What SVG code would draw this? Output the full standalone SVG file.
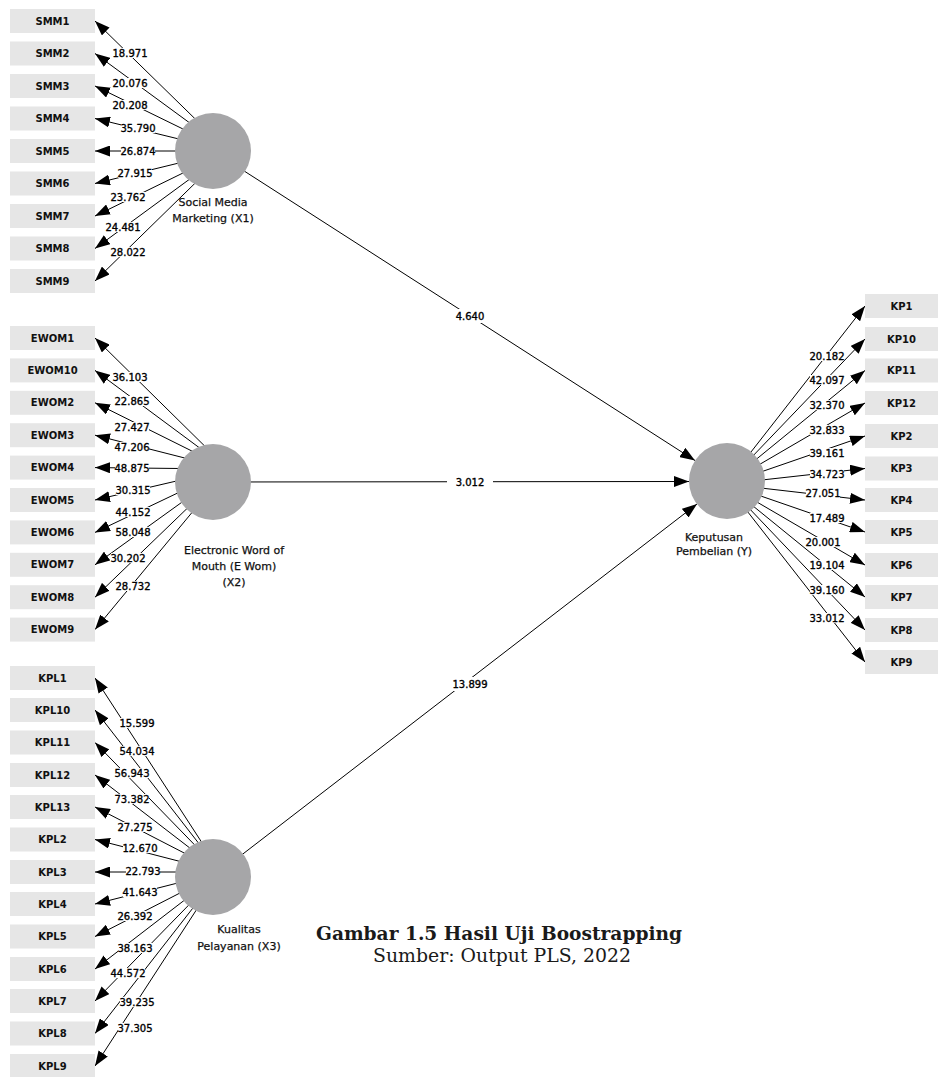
<svg xmlns="http://www.w3.org/2000/svg" width="939" height="1077" viewBox="0 0 939 1077">
<defs>
<style>
.bg{fill:#fff}
.box{fill:#e6e6e6}
.lv{fill:#a6a6a8}
.bt{font-family:"DejaVu Sans",sans-serif;font-weight:bold;font-size:10px;fill:#111;text-anchor:middle}
.nt{font-family:"DejaVu Sans",sans-serif;font-size:11px;fill:#111;stroke:#111;stroke-width:0.25;text-anchor:middle}
.ln{stroke:#000;stroke-width:1;fill:none;marker-end:url(#ah)}
.lb{fill:#fff}
.vt{font-family:"DejaVu Sans",sans-serif;font-size:10px;fill:#000;stroke:#000;stroke-width:0.35;text-anchor:middle}
.t1{font-family:"DejaVu Serif","Liberation Serif",serif;font-weight:bold;font-size:19px;fill:#1a1a1a;text-anchor:middle}
.t2{font-family:"DejaVu Serif","Liberation Serif",serif;font-size:18.5px;fill:#1a1a1a;text-anchor:middle}
</style>
<marker id="ah" markerUnits="userSpaceOnUse" markerWidth="15" markerHeight="11" refX="15" refY="5.5" orient="auto"><path d="M0,0 L15,5.5 L0,11 Z" fill="#000"/></marker>
</defs>
<rect class="bg" x="0" y="0" width="939" height="1077"/>
<g id="connectors">
<line class="ln" x1="213" y1="151" x2="695" y2="460.5"/>
<line class="ln" x1="213" y1="482" x2="689" y2="481.5"/>
<line class="ln" x1="213" y1="877" x2="697" y2="504"/>
<line class="ln" x1="228" y1="151" x2="95" y2="21"/>
<line class="ln" x1="228" y1="151" x2="95" y2="53.5"/>
<line class="ln" x1="228" y1="151" x2="95" y2="86"/>
<line class="ln" x1="228" y1="151" x2="95" y2="118.5"/>
<line class="ln" x1="228" y1="151" x2="95" y2="151"/>
<line class="ln" x1="228" y1="151" x2="95" y2="183.5"/>
<line class="ln" x1="228" y1="151" x2="95" y2="216"/>
<line class="ln" x1="228" y1="151" x2="95" y2="248.5"/>
<line class="ln" x1="228" y1="151" x2="95" y2="281"/>
<line class="ln" x1="228" y1="469" x2="95" y2="338"/>
<line class="ln" x1="228" y1="469" x2="95" y2="370.4"/>
<line class="ln" x1="228" y1="469" x2="95" y2="402.8"/>
<line class="ln" x1="228" y1="469" x2="95" y2="435.2"/>
<line class="ln" x1="228" y1="469" x2="95" y2="467.6"/>
<line class="ln" x1="228" y1="469" x2="95" y2="500"/>
<line class="ln" x1="228" y1="469" x2="95" y2="532.4"/>
<line class="ln" x1="228" y1="469" x2="95" y2="564.8"/>
<line class="ln" x1="228" y1="469" x2="95" y2="597.2"/>
<line class="ln" x1="228" y1="469" x2="95" y2="629.6"/>
<line class="ln" x1="221" y1="872" x2="95" y2="678"/>
<line class="ln" x1="221" y1="872" x2="95" y2="710"/>
<line class="ln" x1="221" y1="872" x2="95" y2="742.5"/>
<line class="ln" x1="221" y1="872" x2="95" y2="775"/>
<line class="ln" x1="221" y1="872" x2="95" y2="807"/>
<line class="ln" x1="221" y1="872" x2="95" y2="839.5"/>
<line class="ln" x1="221" y1="872" x2="95" y2="872"/>
<line class="ln" x1="221" y1="872" x2="95" y2="904"/>
<line class="ln" x1="221" y1="872" x2="95" y2="936.5"/>
<line class="ln" x1="221" y1="872" x2="95" y2="969"/>
<line class="ln" x1="221" y1="872" x2="95" y2="1001"/>
<line class="ln" x1="221" y1="872" x2="95" y2="1033.5"/>
<line class="ln" x1="221" y1="872" x2="95" y2="1066"/>
<line class="ln" x1="726" y1="484" x2="865" y2="306"/>
<line class="ln" x1="726" y1="484" x2="865" y2="339"/>
<line class="ln" x1="726" y1="484" x2="865" y2="370.5"/>
<line class="ln" x1="726" y1="484" x2="865" y2="403"/>
<line class="ln" x1="726" y1="484" x2="865" y2="436"/>
<line class="ln" x1="726" y1="484" x2="865" y2="468.5"/>
<line class="ln" x1="726" y1="484" x2="865" y2="500"/>
<line class="ln" x1="726" y1="484" x2="865" y2="532"/>
<line class="ln" x1="726" y1="484" x2="865" y2="565"/>
<line class="ln" x1="726" y1="484" x2="865" y2="597"/>
<line class="ln" x1="726" y1="484" x2="865" y2="630"/>
<line class="ln" x1="726" y1="484" x2="865" y2="662"/>
<rect class="lb" x="448" y="309" width="44" height="14"/><text class="vt" x="470" y="319.6">4.640</text>
<rect class="lb" x="447" y="475" width="46" height="14"/><text class="vt" x="470" y="485.6">3.012</text>
<rect class="lb" x="446" y="677" width="49" height="14"/><text class="vt" x="470" y="687.6">13.899</text>
<rect class="lb" x="113" y="48" width="34" height="10"/><text class="vt" x="130" y="56.6">18.971</text>
<rect class="lb" x="113" y="78" width="34" height="10"/><text class="vt" x="130" y="86.6">20.076</text>
<rect class="lb" x="113" y="100" width="34" height="10"/><text class="vt" x="130" y="108.6">20.208</text>
<rect class="lb" x="121" y="123" width="34" height="10"/><text class="vt" x="138" y="131.6">35.790</text>
<rect class="lb" x="121" y="146" width="34" height="10"/><text class="vt" x="138" y="154.6">26.874</text>
<rect class="lb" x="118" y="168" width="34" height="10"/><text class="vt" x="135" y="176.6">27.915</text>
<rect class="lb" x="111" y="192" width="34" height="10"/><text class="vt" x="128" y="200.6">23.762</text>
<rect class="lb" x="106" y="222" width="34" height="10"/><text class="vt" x="123" y="230.6">24.481</text>
<rect class="lb" x="111" y="247" width="34" height="10"/><text class="vt" x="128" y="255.6">28.022</text>
<rect class="lb" x="113" y="372" width="34" height="10"/><text class="vt" x="130" y="380.6">36.103</text>
<rect class="lb" x="115" y="396" width="34" height="10"/><text class="vt" x="132" y="404.6">22.865</text>
<rect class="lb" x="115" y="422" width="34" height="10"/><text class="vt" x="132" y="430.6">27.427</text>
<rect class="lb" x="115" y="442" width="34" height="10"/><text class="vt" x="132" y="450.6">47.206</text>
<rect class="lb" x="115" y="463" width="34" height="10"/><text class="vt" x="132" y="471.6">48.875</text>
<rect class="lb" x="116" y="485" width="34" height="10"/><text class="vt" x="133" y="493.6">30.315</text>
<rect class="lb" x="116" y="507" width="34" height="10"/><text class="vt" x="133" y="515.6">44.152</text>
<rect class="lb" x="116" y="527" width="34" height="10"/><text class="vt" x="133" y="535.6">58.048</text>
<rect class="lb" x="111" y="553" width="34" height="10"/><text class="vt" x="128" y="561.6">30.202</text>
<rect class="lb" x="116" y="581" width="34" height="10"/><text class="vt" x="133" y="589.6">28.732</text>
<rect class="lb" x="120" y="718" width="34" height="10"/><text class="vt" x="137" y="726.6">15.599</text>
<rect class="lb" x="120" y="746" width="34" height="10"/><text class="vt" x="137" y="754.6">54.034</text>
<rect class="lb" x="115" y="768" width="34" height="10"/><text class="vt" x="132" y="776.6">56.943</text>
<rect class="lb" x="115" y="794" width="34" height="10"/><text class="vt" x="132" y="802.6">73.382</text>
<rect class="lb" x="118" y="822" width="34" height="10"/><text class="vt" x="135" y="830.6">27.275</text>
<rect class="lb" x="123" y="843" width="34" height="10"/><text class="vt" x="140" y="851.6">12.670</text>
<rect class="lb" x="126" y="866" width="34" height="10"/><text class="vt" x="143" y="874.6">22.793</text>
<rect class="lb" x="123" y="887" width="34" height="10"/><text class="vt" x="140" y="895.6">41.643</text>
<rect class="lb" x="118" y="911" width="34" height="10"/><text class="vt" x="135" y="919.6">26.392</text>
<rect class="lb" x="118" y="943" width="34" height="10"/><text class="vt" x="135" y="951.6">38.163</text>
<rect class="lb" x="111" y="968" width="34" height="10"/><text class="vt" x="128" y="976.6">44.572</text>
<rect class="lb" x="120" y="997" width="34" height="10"/><text class="vt" x="137" y="1005.6">39.235</text>
<rect class="lb" x="118" y="1023" width="34" height="10"/><text class="vt" x="135" y="1031.6">37.305</text>
<rect class="lb" x="810" y="351" width="34" height="10"/><text class="vt" x="827" y="359.6">20.182</text>
<rect class="lb" x="810" y="375" width="34" height="10"/><text class="vt" x="827" y="383.6">42.097</text>
<rect class="lb" x="810" y="400" width="34" height="10"/><text class="vt" x="827" y="408.6">32.370</text>
<rect class="lb" x="810" y="425" width="34" height="10"/><text class="vt" x="827" y="433.6">32.833</text>
<rect class="lb" x="810" y="448" width="34" height="10"/><text class="vt" x="827" y="456.6">39.161</text>
<rect class="lb" x="810" y="469" width="34" height="10"/><text class="vt" x="827" y="477.6">34.723</text>
<rect class="lb" x="806" y="488" width="34" height="10"/><text class="vt" x="823" y="496.6">27.051</text>
<rect class="lb" x="810" y="513" width="34" height="10"/><text class="vt" x="827" y="521.6">17.489</text>
<rect class="lb" x="806" y="537" width="34" height="10"/><text class="vt" x="823" y="545.6">20.001</text>
<rect class="lb" x="810" y="560" width="34" height="10"/><text class="vt" x="827" y="568.6">19.104</text>
<rect class="lb" x="810" y="585" width="34" height="10"/><text class="vt" x="827" y="593.6">39.160</text>
<rect class="lb" x="810" y="613" width="34" height="10"/><text class="vt" x="827" y="621.6">33.012</text>
</g>
<g id="nodes">
<g id="lv-smm"><circle class="lv" cx="213" cy="151" r="38"/><text class="nt" x="213" y="206">Social Media</text><text class="nt" x="213" y="222">Marketing (X1)</text></g>
<g id="lv-ewom"><circle class="lv" cx="213" cy="482" r="38"/><text class="nt" x="234" y="554">Electronic Word of</text><text class="nt" x="234" y="570">Mouth (E Wom)</text><text class="nt" x="234" y="586">(X2)</text></g>
<g id="lv-kpl"><circle class="lv" cx="213" cy="877" r="38"/><text class="nt" x="239" y="933">Kualitas</text><text class="nt" x="239" y="950">Pelayanan (X3)</text></g>
<g id="lv-kp"><circle class="lv" cx="727" cy="481" r="38"/><text class="nt" x="714" y="541">Keputusan</text><text class="nt" x="714" y="555">Pembelian (Y)</text></g>
<g id="SMM1"><rect class="box" x="10" y="9" width="85" height="24"/><text class="bt" x="52.5" y="24.6">SMM1</text></g>
<g id="SMM2"><rect class="box" x="10" y="41.5" width="85" height="24"/><text class="bt" x="52.5" y="57.1">SMM2</text></g>
<g id="SMM3"><rect class="box" x="10" y="74" width="85" height="24"/><text class="bt" x="52.5" y="89.6">SMM3</text></g>
<g id="SMM4"><rect class="box" x="10" y="106.5" width="85" height="24"/><text class="bt" x="52.5" y="122.1">SMM4</text></g>
<g id="SMM5"><rect class="box" x="10" y="139" width="85" height="24"/><text class="bt" x="52.5" y="154.6">SMM5</text></g>
<g id="SMM6"><rect class="box" x="10" y="171.5" width="85" height="24"/><text class="bt" x="52.5" y="187.1">SMM6</text></g>
<g id="SMM7"><rect class="box" x="10" y="204" width="85" height="24"/><text class="bt" x="52.5" y="219.6">SMM7</text></g>
<g id="SMM8"><rect class="box" x="10" y="236.5" width="85" height="24"/><text class="bt" x="52.5" y="252.1">SMM8</text></g>
<g id="SMM9"><rect class="box" x="10" y="269" width="85" height="24"/><text class="bt" x="52.5" y="284.6">SMM9</text></g>
<g id="EWOM1"><rect class="box" x="10" y="326" width="85" height="24"/><text class="bt" x="52.5" y="341.6">EWOM1</text></g>
<g id="EWOM10"><rect class="box" x="10" y="358.4" width="85" height="24"/><text class="bt" x="52.5" y="374">EWOM10</text></g>
<g id="EWOM2"><rect class="box" x="10" y="390.8" width="85" height="24"/><text class="bt" x="52.5" y="406.4">EWOM2</text></g>
<g id="EWOM3"><rect class="box" x="10" y="423.2" width="85" height="24"/><text class="bt" x="52.5" y="438.8">EWOM3</text></g>
<g id="EWOM4"><rect class="box" x="10" y="455.6" width="85" height="24"/><text class="bt" x="52.5" y="471.2">EWOM4</text></g>
<g id="EWOM5"><rect class="box" x="10" y="488" width="85" height="24"/><text class="bt" x="52.5" y="503.6">EWOM5</text></g>
<g id="EWOM6"><rect class="box" x="10" y="520.4" width="85" height="24"/><text class="bt" x="52.5" y="536">EWOM6</text></g>
<g id="EWOM7"><rect class="box" x="10" y="552.8" width="85" height="24"/><text class="bt" x="52.5" y="568.4">EWOM7</text></g>
<g id="EWOM8"><rect class="box" x="10" y="585.2" width="85" height="24"/><text class="bt" x="52.5" y="600.8">EWOM8</text></g>
<g id="EWOM9"><rect class="box" x="10" y="617.6" width="85" height="24"/><text class="bt" x="52.5" y="633.2">EWOM9</text></g>
<g id="KPL1"><rect class="box" x="10" y="666" width="85" height="24"/><text class="bt" x="52.5" y="681.6">KPL1</text></g>
<g id="KPL10"><rect class="box" x="10" y="698" width="85" height="24"/><text class="bt" x="52.5" y="713.6">KPL10</text></g>
<g id="KPL11"><rect class="box" x="10" y="730.5" width="85" height="24"/><text class="bt" x="52.5" y="746.1">KPL11</text></g>
<g id="KPL12"><rect class="box" x="10" y="763" width="85" height="24"/><text class="bt" x="52.5" y="778.6">KPL12</text></g>
<g id="KPL13"><rect class="box" x="10" y="795" width="85" height="24"/><text class="bt" x="52.5" y="810.6">KPL13</text></g>
<g id="KPL2"><rect class="box" x="10" y="827.5" width="85" height="24"/><text class="bt" x="52.5" y="843.1">KPL2</text></g>
<g id="KPL3"><rect class="box" x="10" y="860" width="85" height="24"/><text class="bt" x="52.5" y="875.6">KPL3</text></g>
<g id="KPL4"><rect class="box" x="10" y="892" width="85" height="24"/><text class="bt" x="52.5" y="907.6">KPL4</text></g>
<g id="KPL5"><rect class="box" x="10" y="924.5" width="85" height="24"/><text class="bt" x="52.5" y="940.1">KPL5</text></g>
<g id="KPL6"><rect class="box" x="10" y="957" width="85" height="24"/><text class="bt" x="52.5" y="972.6">KPL6</text></g>
<g id="KPL7"><rect class="box" x="10" y="989" width="85" height="24"/><text class="bt" x="52.5" y="1004.6">KPL7</text></g>
<g id="KPL8"><rect class="box" x="10" y="1021.5" width="85" height="24"/><text class="bt" x="52.5" y="1037.1">KPL8</text></g>
<g id="KPL9"><rect class="box" x="10" y="1054" width="85" height="24"/><text class="bt" x="52.5" y="1069.6">KPL9</text></g>
<g id="KP1"><rect class="box" x="865" y="294" width="73" height="24"/><text class="bt" x="901.5" y="309.6">KP1</text></g>
<g id="KP10"><rect class="box" x="865" y="327" width="73" height="24"/><text class="bt" x="901.5" y="342.6">KP10</text></g>
<g id="KP11"><rect class="box" x="865" y="358.5" width="73" height="24"/><text class="bt" x="901.5" y="374.1">KP11</text></g>
<g id="KP12"><rect class="box" x="865" y="391" width="73" height="24"/><text class="bt" x="901.5" y="406.6">KP12</text></g>
<g id="KP2"><rect class="box" x="865" y="424" width="73" height="24"/><text class="bt" x="901.5" y="439.6">KP2</text></g>
<g id="KP3"><rect class="box" x="865" y="456.5" width="73" height="24"/><text class="bt" x="901.5" y="472.1">KP3</text></g>
<g id="KP4"><rect class="box" x="865" y="488" width="73" height="24"/><text class="bt" x="901.5" y="503.6">KP4</text></g>
<g id="KP5"><rect class="box" x="865" y="520" width="73" height="24"/><text class="bt" x="901.5" y="535.6">KP5</text></g>
<g id="KP6"><rect class="box" x="865" y="553" width="73" height="24"/><text class="bt" x="901.5" y="568.6">KP6</text></g>
<g id="KP7"><rect class="box" x="865" y="585" width="73" height="24"/><text class="bt" x="901.5" y="600.6">KP7</text></g>
<g id="KP8"><rect class="box" x="865" y="618" width="73" height="24"/><text class="bt" x="901.5" y="633.6">KP8</text></g>
<g id="KP9"><rect class="box" x="865" y="650" width="73" height="24"/><text class="bt" x="901.5" y="665.6">KP9</text></g>
</g>
<g id="caption">
<text class="t1" x="499" y="940" textLength="366" lengthAdjust="spacingAndGlyphs">Gambar 1.5 Hasil Uji Boostrapping</text>
<text class="t2" x="502" y="962" textLength="258" lengthAdjust="spacingAndGlyphs">Sumber: Output PLS, 2022</text>
</g>
</svg>
